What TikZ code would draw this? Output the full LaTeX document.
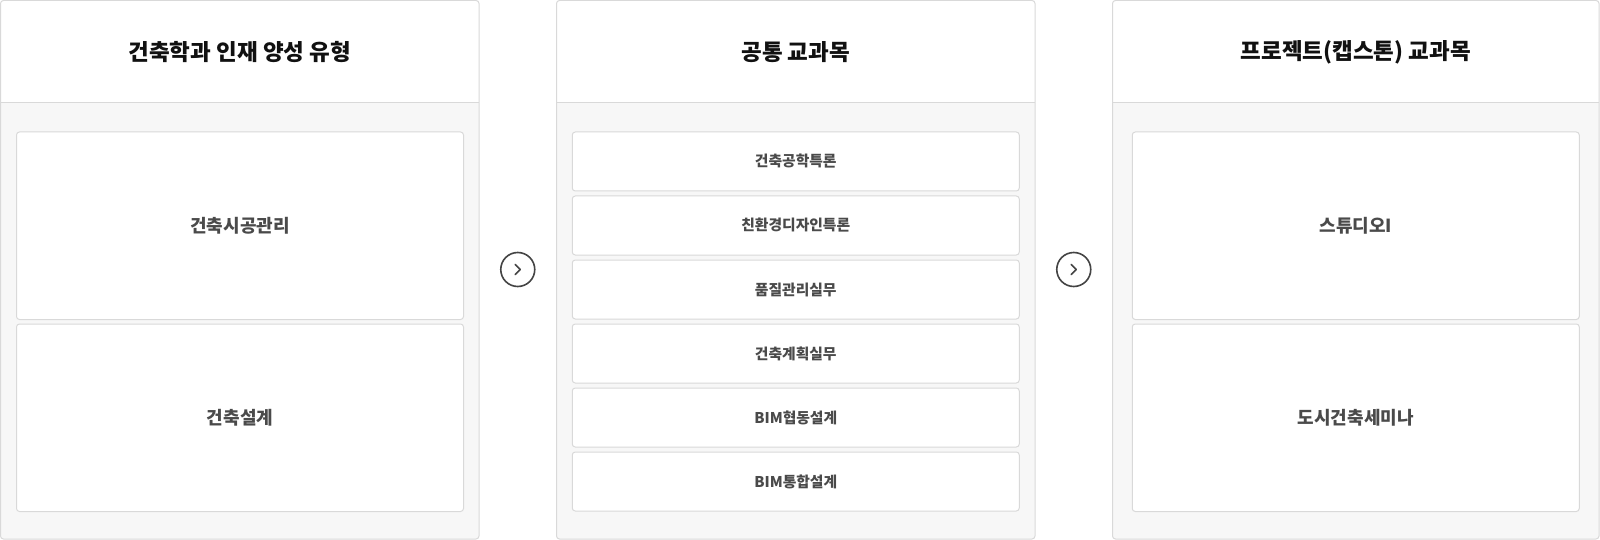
\documentclass[tikz,border=0pt]{standalone}
\usepackage{fontspec}
\newfontfamily\kr{Noto Sans CJK KR}
\definecolor{bord}{HTML}{D9D9D9}
\definecolor{bg}{HTML}{F7F7F7}
\definecolor{txt}{HTML}{4A4A4A}
\definecolor{ttl}{HTML}{111111}
\definecolor{arr}{HTML}{444444}
\newcommand\drawpanel[3]{% x1, x2, name
  \begin{scope}
    \clip[rounded corners=3pt] (#1,0.5) rectangle (#2,539);
    \fill[bg] (#1,0.5) rectangle (#2,539);
    \fill[white] (#1,0.5) rectangle (#2,103);
  \end{scope}
  \draw[bord, line width=1pt] (#1,103) -- (#2,103);
  \draw[bord, line width=1pt, rounded corners=3pt] (#1,0.5) rectangle (#2,539);
  \coordinate (#3) at ({(#1+#2)/2},52);
}
\tikzset{
  ttlnode/.style={font=\kr\bfseries\fontsize{22.5}{26}\selectfont, text=ttl, inner sep=0pt},
  bigbox/.style={draw=bord, fill=white, line width=1pt, rounded corners=3pt,
    minimum width=447pt, minimum height=187.5pt, inner sep=0pt,
    font=\kr\bfseries\fontsize{18}{21}\selectfont, text=txt},
  smallbox/.style={draw=bord, fill=white, line width=1pt, rounded corners=3pt,
    minimum width=447pt, minimum height=59pt, inner sep=0pt,
    font=\kr\bfseries\fontsize{14.8}{17}\selectfont, text=txt},
  nextcircle/.style={circle, draw=arr, line width=1.6pt, minimum size=34pt, inner sep=0pt},
  chev/.style={draw=arr, line width=1.6pt, line cap=round, line join=round}
}
\begin{document}
\begin{tikzpicture}[x=1pt,y=-1pt]
\useasboundingbox (0,0) rectangle (1600,540);
\fill[white] (0,0) rectangle (1600,540);
\drawpanel{0.5}{479}{h1}
\drawpanel{556.5}{1035}{h2}
\drawpanel{1112.5}{1599}{h3}

\node[ttlnode] (t1) at (h1) {건축학과 인재 양성 유형};
\node[ttlnode] (t2) at (h2) {공통 교과목};
\node[ttlnode] (t3) at (h3) {프로젝트(캡스톤) 교과목};

\node[bigbox] (a1) at (240,225.75) {건축시공관리};
\node[bigbox] (a2) at (240,417.75) {건축설계};

\node[smallbox] (b1) at (795.75,161.5) {건축공학특론};
\node[smallbox] (b2) at (795.75,225.5) {친환경디자인특론};
\node[smallbox] (b3) at (795.75,289.5) {품질관리실무};
\node[smallbox] (b4) at (795.75,353.5) {건축계획실무};
\node[smallbox] (b5) at (795.75,417.5) {BIM협동설계};
\node[smallbox] (b6) at (795.75,481.5) {BIM통합설계};

\node[bigbox] (c1) at (1355.75,225.75) {스튜디오I};
\node[bigbox] (c2) at (1355.75,417.75) {도시건축세미나};

\node[nextcircle] (n1) at (517.75,269.5) {};
\node[nextcircle] (n2) at (1073.75,269.5) {};
\draw[chev] ([shift={(-2.5,-5)}]n1.center) -- ([shift={(2.5,0)}]n1.center) -- ([shift={(-2.5,5)}]n1.center);
\draw[chev] ([shift={(-2.5,-5)}]n2.center) -- ([shift={(2.5,0)}]n2.center) -- ([shift={(-2.5,5)}]n2.center);
\end{tikzpicture}
\end{document}
